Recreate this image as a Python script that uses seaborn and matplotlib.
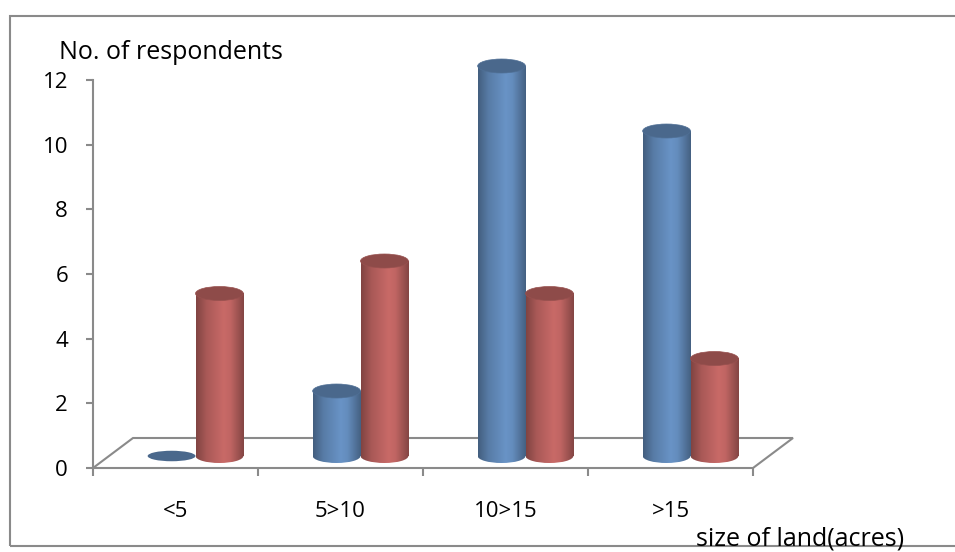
import numpy as np
import pandas as pd
import matplotlib
matplotlib.use("Agg")
import matplotlib.pyplot as plt
import seaborn as sns
from matplotlib.patches import Ellipse, Rectangle, Polygon
from matplotlib.colors import LinearSegmentedColormap, to_rgb

# ---------------- data ----------------
categories = ["<5", "5>10", "10>15", ">15"]
series_blue = [0, 2, 12, 10]
series_red = [5, 6, 5, 3]
series_names = ["Series1", "Series2"]
y_ticks = [0, 2, 4, 6, 8, 10, 12]
y_label = "No. of respondents"
x_label = "size of land(acres)"

# ---------------- style ----------------
BLUE = "#4F81BD"
RED = "#C0504D"
GRAY = "#8a8a8a"
FS = 16
FS_TITLE = 18

sns.set_theme(style="white")
plt.rcParams["font.family"] = ["Open Sans", "DejaVu Sans"]

W, H, DPI = 955, 552, 100
fig = plt.figure(figsize=(W / DPI, H / DPI), dpi=DPI)
fig.patch.set_facecolor("white")


def frac(x0, y_bot, x1, y_top):
    return [x0 / W, (H - y_bot) / H, (x1 - x0) / W, (y_bot - y_top) / H]


# main axes (axis line, floor, labels)
ax_px = (93, 468, 753, 80)
ax = fig.add_axes(frac(*ax_px))
# bars axes (shifted for the 3-D depth)
axb_px = (113, 456, 773, 66)
axb = fig.add_axes(frac(*axb_px))
axb.patch.set_visible(False)

df = pd.DataFrame({
    "category": categories * 2,
    "value": series_blue + series_red,
    "series": [series_names[0]] * len(categories) + [series_names[1]] * len(categories),
})
sns.barplot(data=df, x="category", y="value", hue="series",
            palette=[BLUE, RED], width=0.58, ax=axb, legend=False,
            order=categories, hue_order=series_names)

YMAX = y_ticks[-1]
axb_h_px = axb_px[1] - axb_px[3]
ELL_PX = 14
ell_h = ELL_PX * YMAX / axb_h_px


def shade(c, f):
    r = np.array(to_rgb(c)) * f
    return tuple(np.clip(r, 0, 1))


grad = np.linspace(0, 1, 256).reshape(1, -1)
patches = list(axb.patches)
for k, p in enumerate(patches):
    x0, w, h = p.get_x(), p.get_width(), p.get_height()
    base = p.get_facecolor()[:3]
    p.set_visible(False)
    xc = x0 + w / 2
    cmap = LinearSegmentedColormap.from_list(
        "cyl", [(0.0, shade(base, 0.72)), (0.22, shade(base, 0.95)),
                (0.58, shade(base, 1.13)), (0.72, shade(base, 1.08)),
                (1.0, shade(base, 0.74))])
    z = 2 + k * 0.01
    if h > 0:
        body = axb.imshow(grad, extent=[x0, x0 + w, 0, h], aspect="auto", cmap=cmap,
                          zorder=z, interpolation="bilinear")
        body.set_clip_on(False)
        bottom = axb.imshow(grad, extent=[x0, x0 + w, -ell_h / 2, 0], aspect="auto",
                            cmap=cmap, zorder=z, interpolation="bilinear")
        bottom.set_clip_box(fig.bbox)
        bottom.set_clip_path(Ellipse((xc, 0), w, ell_h, transform=axb.transData))
        axb.add_patch(Ellipse((xc, h), w, ell_h, facecolor=shade(base, 0.80),
                              edgecolor=shade(base, 0.85), lw=0.5, zorder=z + 0.005,
                              clip_on=False))
    else:
        axb.add_patch(Ellipse((xc, h), w, ell_h * 0.75, facecolor=shade(base, 0.80),
                              edgecolor="none", zorder=z + 0.005, clip_on=False))

axb.set_xlim(-0.5, len(categories) - 0.5)
axb.set_ylim(0, YMAX)
axb.axis("off")

# ---------------- main axes ----------------
ax.set_xlim(-0.5, len(categories) - 0.5)
ax.set_ylim(0, YMAX)
ax.set_yticks(y_ticks)
for s in ["top", "right", "bottom"]:
    ax.spines[s].set_visible(False)
ax.spines["left"].set_color(GRAY)
ax.spines["left"].set_linewidth(1.5)
ax.tick_params(axis="y", left=True, length=5, width=1.5, color=GRAY,
               labelsize=FS, pad=13, labelcolor="black")
ax.set_xticks(np.arange(-0.5, len(categories)), labels=[""] * (len(categories) + 1))
ax.set_xticks(np.arange(len(categories)), labels=categories, minor=True)
ax.tick_params(axis="x", which="major", bottom=True, length=6, width=1.5, color=GRAY)
ax.tick_params(axis="x", which="minor", bottom=True, length=0, pad=24,
               labelsize=FS, labelcolor="black")

# floor
ax_w_px = ax_px[2] - ax_px[0]
ax_h_px = ax_px[1] - ax_px[3]
DX, DY = 40 / ax_w_px, 30 / ax_h_px
floor = Polygon([(0, 0), (1, 0), (1 + DX, DY), (DX, DY)], closed=True,
                transform=ax.transAxes, facecolor="none", edgecolor=GRAY,
                lw=1.5, clip_on=False, zorder=1)
ax.add_patch(floor)

ax.set_ylabel(y_label, rotation=0, ha="left", va="center", fontsize=FS_TITLE, color="black")
ax.yaxis.set_label_coords(-0.0515, 1.0696)
ax.set_xlabel(x_label, fontsize=FS_TITLE, color="black")
ax.xaxis.set_label_coords(1.071, -0.1985)
ax.xaxis.label.set_va("baseline")

# outer border (chart area)
fig.add_artist(Rectangle((10 / W, 6 / H), 1.2, (546 - 16) / H, transform=fig.transFigure,
                         fill=False, edgecolor=GRAY, lw=1.5, zorder=0))

fig.savefig("out.png", dpi=DPI, facecolor="white")
